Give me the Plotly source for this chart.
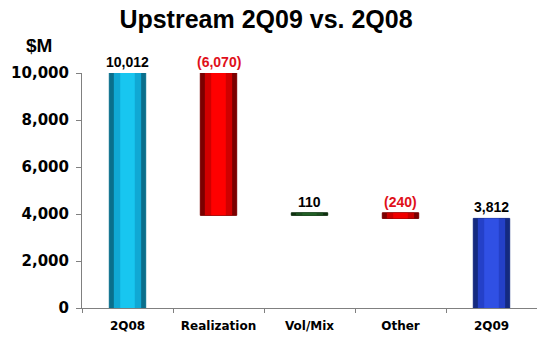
import plotly.graph_objects as go

categories = ["2Q08", "Realization", "Vol/Mix", "Other", "2Q09"]
changes = [10012, -6070, 110, -240, 3812]
kinds = ["total", "delta", "delta", "delta", "total"]
labels = ["10,012", "(6,070)", "110", "(240)", "3,812"]
label_colors = ["#000000", "#e0101a", "#000000", "#e0101a", "#000000"]
edge_colors = ["#0a6f8c", "#7a0000", "#0e300f", "#7a0000", "#142a80"]
mid_colors = ["#10a8d4", "#d00000", "#1a4e1e", "#c80000", "#2440c8"]
fill_colors = ["#18c6f0", "#ff0000", "#215f25", "#f00000", "#3050e4"]
y_max = 10000
y_ticks = [0, 2000, 4000, 6000, 8000, 10000]
y_tick_text = ["0", "2,000", "4,000", "6,000", "8,000", "10,000"]

# compute bases and heights for waterfall
bases, heights = [], []
running = 0
for v, k in zip(changes, kinds):
    if k == "total":
        bases.append(0)
        heights.append(v)
        running = v
    else:
        if v >= 0:
            bases.append(running)
            heights.append(v)
        else:
            bases.append(running + v)
            heights.append(-v)
        running += v
tops = [b + h for b, h in zip(bases, heights)]

fig = go.Figure()
# layered bars to imitate the cylindrical shading of the original
for w, cols, line in [(0.4, edge_colors, dict(color=edge_colors, width=1)),
                      (0.3, mid_colors, dict(width=0)),
                      (0.16, fill_colors, dict(width=0))]:
    fig.add_trace(go.Bar(
        x=categories, y=heights, base=bases, width=w,
        marker=dict(color=cols, line=line),
        hoverinfo="skip", showlegend=False,
    ))

annotations = []
for c, t, lab, col in zip(categories, tops, labels, label_colors):
    annotations.append(dict(
        x=c, y=t / y_max, xref="x", yref="paper", text="<b>" + lab + "</b>",
        showarrow=False, yanchor="bottom", yshift=1,
        font=dict(family="Liberation Sans, Arial", size=14, color=col),
    ))
annotations.append(dict(
    text="<b>$M</b>", xref="paper", yref="paper",
    x=(39 - 82) / 455, y=(308 - 46) / 235, xanchor="center", yanchor="middle",
    showarrow=False, font=dict(family="Liberation Sans, Arial", size=19, color="#000"),
))

fig.update_layout(
    width=537, height=345,
    margin=dict(l=82, r=0, t=73, b=37),
    paper_bgcolor="white", plot_bgcolor="white",
    barmode="overlay",
    title=dict(text="<b>Upstream 2Q09 vs. 2Q08</b>", x=(120 + 412) / 2 / 537, xanchor="center",
               y=(345 - 19) / 345, yanchor="middle",
               font=dict(family="Liberation Sans, Arial", size=25, color="#000")),
    xaxis=dict(
        type="category", showline=True, linecolor="#808080", linewidth=1,
        ticks="outside", tickson="boundaries", ticklen=4, tickcolor="#808080",
        tickfont=dict(family="DejaVu Sans", size=12, color="#000", weight="bold"),
        ticklabelstandoff=7,
        showgrid=False, zeroline=False, range=[-0.5, 4.5],
    ),
    yaxis=dict(
        range=[0, y_max], tickvals=y_ticks, ticktext=y_tick_text,
        showline=True, linecolor="#808080", linewidth=1,
        ticks="outside", ticklen=5, tickcolor="#808080",
        tickfont=dict(family="DejaVu Sans", size=15, color="#000", weight="bold"),
        ticklabelstandoff=4,
        showgrid=False, zeroline=False,
    ),
    annotations=annotations,
)
fig.write_html("out.html", config={"displayModeBar": False},
               post_script="document.body.style.margin='0';")
